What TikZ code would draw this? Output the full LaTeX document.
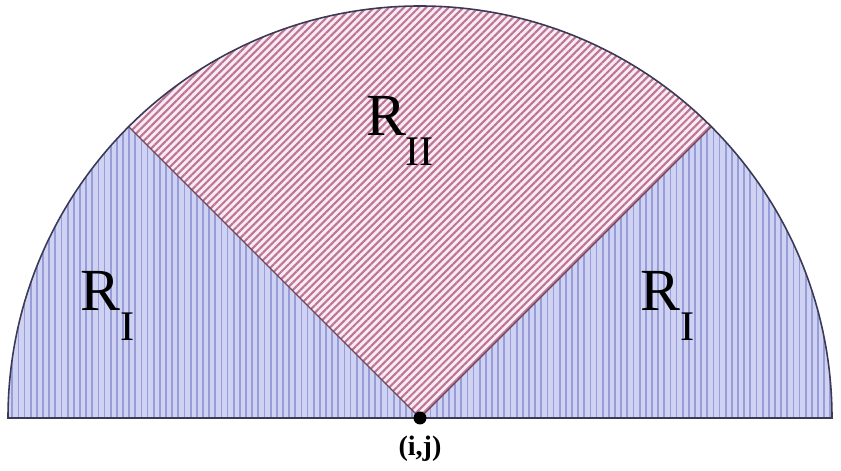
\documentclass[tikz,border=0pt]{standalone}
\usepackage{fontspec}
\setmainfont{Liberation Serif}
\usetikzlibrary{patterns.meta,calc}

\definecolor{sideblue}{HTML}{CFD2F3}
\definecolor{sideline}{HTML}{979DD6}
\definecolor{midpink}{HTML}{F8ECF2}
\definecolor{midline}{HTML}{BE7496}
\definecolor{rimline}{HTML}{3A3A55}

\newcommand{\regname}[1]{R\raisebox{-0.5em}{\fontsize{24}{28}\selectfont #1}}

\begin{document}
\begin{tikzpicture}[
    sidehatch/.style={pattern={Lines[angle=90, distance=3.5pt, line width=1pt]}, pattern color=sideline},
    midhatch/.style={pattern={Lines[angle=45, distance=3pt, line width=1.2pt]}, pattern color=midline},
    rim/.style={rimline, line width=0.9pt},
    ray/.style={midline!60!black, line width=0.7pt},
    regionlabel/.style={font=\rmfamily\fontsize{34}{40}\selectfont, inner sep=0pt},
    centre/.style={circle, fill=black, inner sep=0pt, minimum size=0.26cm},
]

\def\cx{8.4}  \def\cy{1.06}
\def\rad{8.24}

\useasboundingbox (0,0) rectangle (16.82,9.42);

% Centre and arc end points of the two rays
\coordinate (c) at (\cx,\cy);
\coordinate (pl) at ($(c)+(135:\rad)$);
\coordinate (pr) at ($(c)+(45:\rad)$);

% Region I, left and right
\fill[sideblue] (c) -- ($(c)+(\rad,0)$) arc[start angle=0, end angle=45, radius=\rad] -- cycle;
\fill[sideblue] (c) -- (pl) arc[start angle=135, end angle=180, radius=\rad] -- cycle;
\fill[sidehatch] (c) -- ($(c)+(\rad,0)$) arc[start angle=0, end angle=45, radius=\rad] -- cycle;
\fill[sidehatch] (c) -- (pl) arc[start angle=135, end angle=180, radius=\rad] -- cycle;

% Region II
\fill[midpink] (c) -- (pr) arc[start angle=45, end angle=135, radius=\rad] -- cycle;
\fill[midhatch] (c) -- (pr) arc[start angle=45, end angle=135, radius=\rad] -- cycle;

% Rays and outline
\draw[ray] (c) -- (pl);
\draw[ray] (c) -- (pr);
\draw[rim] ($(c)+(-\rad,0)$) -- ($(c)+(\rad,0)$) arc[start angle=0, end angle=180, radius=\rad] -- cycle;

% Labels
\node[regionlabel] (r1l) at (2.15,3.3) {\regname{I}};
\node[regionlabel] (r1r) at (13.35,3.3) {\regname{I}};
\node[regionlabel] (r2) at (8.0,6.8) {\regname{II}};

\node[centre] (p) at (c) {};
\node[font=\rmfamily\fontsize{16}{18}\selectfont\bfseries, below=0.1cm] (plab) at (p.south) {(i,j)};

\end{tikzpicture}
\end{document}
